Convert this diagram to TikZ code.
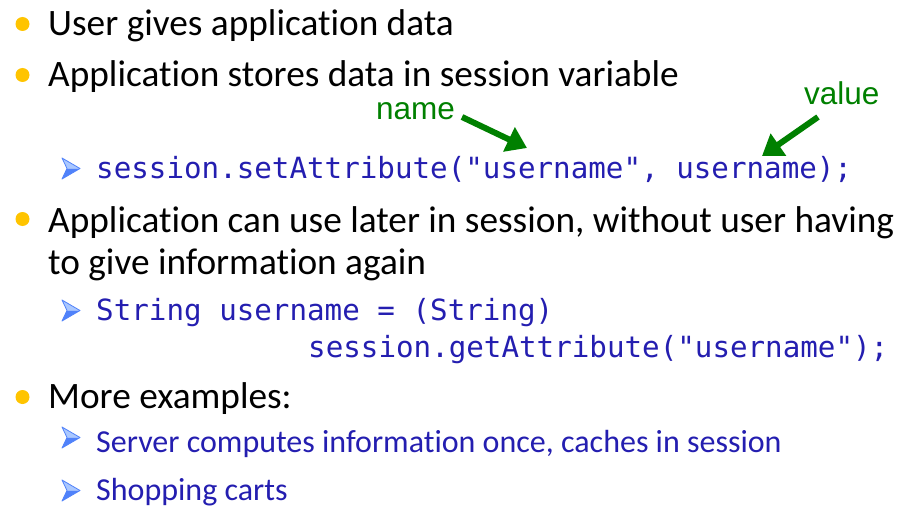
\documentclass[tikz,border=0pt]{standalone}
\usepackage{fontspec}
\setmainfont[Ligatures=NoCommon]{Carlito}
\newfontfamily\codefont{DejaVu Sans Mono}
\newfontfamily\labelfont{Liberation Sans}
\usetikzlibrary{arrows.meta}
\definecolor{bulletyellow}{RGB}{255,196,0}
\definecolor{codeblue}{RGB}{36,30,176}
\definecolor{tipdark}{RGB}{80,130,250}
\definecolor{tiplight}{RGB}{170,200,255}
\definecolor{notegreen}{RGB}{0,128,0}
\tikzset{
  main/.style={anchor=base west, inner sep=0pt, font=\fontsize{37.3}{44}\selectfont},
  code/.style={anchor=base west, inner sep=0pt, text=codeblue, font=\codefont\fontsize{29.2}{35}\selectfont},
  subtext/.style={anchor=base west, inner sep=0pt, text=codeblue, font=\fontsize{32}{38}\selectfont},
  note/.style={anchor=base west, inner sep=0pt, text=notegreen, font=\labelfont\fontsize{31.5}{36}\selectfont},
  pointer/.style={draw=notegreen, line width=6pt, -{Triangle[length=20pt, width=26pt]}},
}
% round yellow bullet: #1 = position
\newcommand{\dotbullet}[1]{\fill[bulletyellow] #1 circle (7);}
% shaded arrowhead bullet: #1 = x of back edge, #2 = baseline y
\newcommand{\tipbullet}[2]{%
  \fill[tiplight] (#1,#2-20) -- (#1+18,#2-9.5) -- (#1+5,#2-9.5) -- cycle;
  \fill[tipdark] (#1,#2+1) -- (#1+18,#2-9.5) -- (#1+5,#2-9.5) -- cycle;
  \draw[tipdark, line width=0.8pt, line join=round] (#1,#2-20) -- (#1+18,#2-9.5) -- (#1,#2+1) -- (#1+5,#2-9.5) -- cycle;}
\begin{document}
\begin{tikzpicture}[x=1pt, y=-1pt]
\useasboundingbox (0,0) rectangle (902,508);

% first level points
\dotbullet{(22.5,24)}
\node[main] (p1) at (48,36) {User gives application data};
\dotbullet{(22.5,75)}
\node[main] (p2) at (48,87) {Application stores data in session variable};

% storing an attribute
\tipbullet{62}{178}
\node[code] (c1) at (96,178) {session.setAttribute("username", username);};
\node[note] (lname) at (376,120) {name};
\node[note] (lvalue) at (804,105) {value};
\coordinate (nametail) at (462,117);
\coordinate (namehead) at (527,148);
\coordinate (valuetail) at (818,117);
\coordinate (valuehead) at (762,156);
\draw[pointer] (nametail) -- (namehead);
\draw[pointer] (valuetail) -- (valuehead);

% reading it back
\dotbullet{(22.5,219)}
\node[main] (p3) at (48,232) {Application can use later in session, without user having};
\node[main] (p3b) at (48,274) {to give information again};
\tipbullet{62}{320}
\node[code] (c2) at (96,320) {String username = (String)};
\node[code] (c3) at (308,357) {session.getAttribute("username");};

% further uses
\dotbullet{(22.5,397)}
\node[main] (p4) at (48,408) {More examples:};
\tipbullet{62}{447}
\node[subtext] (s1) at (96,452) {Server computes information once, caches in session};
\tipbullet{62}{500}
\node[subtext] (s2) at (96,500) {Shopping carts};
\end{tikzpicture}
\end{document}
